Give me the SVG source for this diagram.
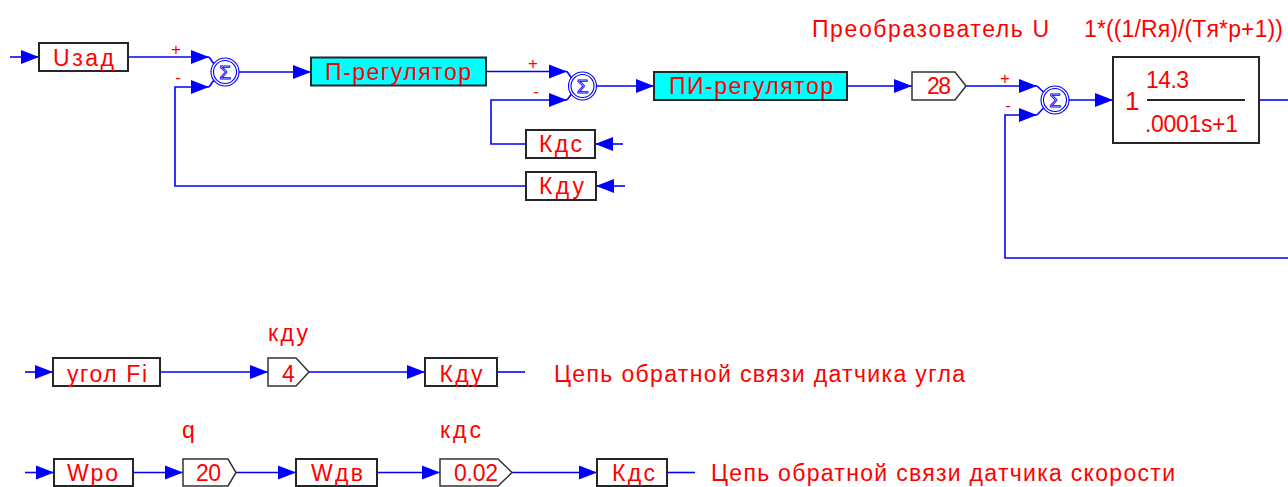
<svg xmlns="http://www.w3.org/2000/svg" width="1288" height="487" viewBox="0 0 1288 487">
  <style>
    .ln { stroke: #0000ff; stroke-width: 1.6; fill: none; }
    .bx { fill: #ffffff; stroke: #262626; stroke-width: 2; }
    .cy { fill: #00ffff; stroke: #262626; stroke-width: 2; }
    .gn { fill: #ffffff; stroke: #333333; stroke-width: 1.5; }
    .sc { fill: #ffffff; stroke: #0000ff; stroke-width: 1.1; }
    .t { font-family: "Liberation Sans", Arial, sans-serif; font-size: 23px; fill: #ff0000; }
    .sg { font-family: "Liberation Sans", Arial, sans-serif; font-size: 17px; fill: #ff0000; text-anchor: middle; }
    .sym { font-family: "Liberation Sans", Arial, sans-serif; font-size: 19px; fill: #ffffff; stroke: #0000ff; stroke-width: 0.9; text-anchor: middle; }
  </style>
  <defs>
    <marker id="ah" viewBox="0 0 20 16" markerWidth="20" markerHeight="16" refX="19" refY="8" orient="auto" markerUnits="userSpaceOnUse">
      <path d="M1,1 L19,8 L1,15 Z" fill="#0000ff"/>
    </marker>
  </defs>
  <rect width="1288" height="487" fill="#ffffff"/>

  <!-- signal lines -->
  <g id="connectors">
    <path class="ln" d="M10,57 H39" marker-end="url(#ah)"/>
    <path class="ln" d="M128,57 H209" marker-end="url(#ah)"/>
    <path class="ln" d="M209,57 L214,64"/>
    <path class="ln" d="M526,186 H175 V87 H209" marker-end="url(#ah)"/>
    <path class="ln" d="M209,87 L214,80"/>
    <path class="ln" d="M239,72 H311" marker-end="url(#ah)"/>
    <path class="ln" d="M486,71.5 H567" marker-end="url(#ah)"/>
    <path class="ln" d="M567,71.5 L571.5,78"/>
    <path class="ln" d="M526,144 H491 V100 H567" marker-end="url(#ah)"/>
    <path class="ln" d="M567,100 L571.5,94"/>
    <path class="ln" d="M623,144 H595" marker-end="url(#ah)"/>
    <path class="ln" d="M625,186 H596" marker-end="url(#ah)"/>
    <path class="ln" d="M596.5,86 H654" marker-end="url(#ah)"/>
    <path class="ln" d="M847,86 H912" marker-end="url(#ah)"/>
    <path class="ln" d="M966,86 H1037" marker-end="url(#ah)"/>
    <path class="ln" d="M1037,86 L1043.5,92"/>
    <path class="ln" d="M1288,258 H1005 V115 H1037" marker-end="url(#ah)"/>
    <path class="ln" d="M1037,115 L1043.5,108"/>
    <path class="ln" d="M1069,100 H1113" marker-end="url(#ah)"/>
    <path class="ln" d="M1259,100 H1288"/>

    <path class="ln" d="M25,372 H53" marker-end="url(#ah)"/>
    <path class="ln" d="M160,372 H268" marker-end="url(#ah)"/>
    <path class="ln" d="M309,372 H425" marker-end="url(#ah)"/>
    <path class="ln" d="M497,372 H525"/>

    <path class="ln" d="M25,472.5 H54" marker-end="url(#ah)"/>
    <path class="ln" d="M133,472.5 H183" marker-end="url(#ah)"/>
    <path class="ln" d="M236,472.5 H296" marker-end="url(#ah)"/>
    <path class="ln" d="M377,472.5 H440" marker-end="url(#ah)"/>
    <path class="ln" d="M512,472.5 H597" marker-end="url(#ah)"/>
    <path class="ln" d="M667,472.5 H695"/>
  </g>

  <!-- main loop -->
  <g id="u-zad">
    <rect class="bx" x="39" y="43" width="89" height="28"/>
    <text class="t" x="53" y="66" textLength="61" lengthAdjust="spacing">Uзад</text>
  </g>
  <g id="sum1">
    <circle class="sc" cx="225" cy="72" r="14"/>
    <circle class="sc" cx="225" cy="72" r="11.5"/>
    <text class="sym" x="225" y="79">Σ</text>
    <text class="sg" x="176" y="55">+</text>
    <text class="sg" x="178" y="83">-</text>
  </g>
  <g id="p-reg">
    <rect class="cy" x="311" y="57.5" width="175" height="28"/>
    <text class="t" x="325" y="80" textLength="146" lengthAdjust="spacing">П-регулятор</text>
  </g>
  <g id="sum2">
    <circle class="sc" cx="582.5" cy="86" r="14"/>
    <circle class="sc" cx="582.5" cy="86" r="11.5"/>
    <text class="sym" x="582.5" y="93">Σ</text>
    <text class="sg" x="533" y="69">+</text>
    <text class="sg" x="536" y="97">-</text>
  </g>
  <g id="kds-fb">
    <rect class="bx" x="526" y="130" width="69" height="28"/>
    <text class="t" x="539" y="151.5" textLength="43" lengthAdjust="spacing">Кдс</text>
  </g>
  <g id="kdu-fb">
    <rect class="bx" x="526" y="172" width="70" height="28"/>
    <text class="t" x="539" y="194" textLength="45" lengthAdjust="spacing">Кду</text>
  </g>
  <g id="pi-reg">
    <rect class="cy" x="654" y="72" width="193" height="28"/>
    <text class="t" x="669" y="94" textLength="164" lengthAdjust="spacing">ПИ-регулятор</text>
  </g>
  <g id="gain-28">
    <polygon class="gn" points="912,72 955,72 966,86 955,100 912,100"/>
    <text class="t" x="927" y="94" textLength="24" lengthAdjust="spacing">28</text>
  </g>
  <g id="converter-label">
    <text class="t" x="812" y="37" textLength="237" lengthAdjust="spacing">Преобразователь U</text>
  </g>
  <g id="sum3">
    <circle class="sc" cx="1055" cy="100" r="14"/>
    <circle class="sc" cx="1055" cy="100" r="11.5"/>
    <text class="sym" x="1055" y="107">Σ</text>
    <text class="sg" x="1005" y="84">+</text>
    <text class="sg" x="1008" y="111">-</text>
  </g>
  <g id="armature">
    <text class="t" x="1084" y="37" textLength="199" lengthAdjust="spacing">1*((1/Rя)/(Tя*p+1))</text>
    <rect class="bx" x="1113" y="57" width="146" height="86"/>
    <text class="t" x="1125" y="110" style="font-size:26px">1</text>
    <line x1="1147" y1="100" x2="1245" y2="100" stroke="#262626" stroke-width="2"/>
    <text class="t" x="1146" y="88" textLength="43" lengthAdjust="spacing">14.3</text>
    <text class="t" x="1145" y="131.5" textLength="93" lengthAdjust="spacing">.0001s+1</text>
  </g>

  <!-- angle sensor feedback chain -->
  <g id="ugol-fi">
    <rect class="bx" x="53" y="358" width="107" height="28"/>
    <text class="t" x="67" y="381.5" textLength="80" lengthAdjust="spacing">угол Fi</text>
  </g>
  <g id="gain-kdu">
    <text class="t" x="268" y="341" textLength="40" lengthAdjust="spacing">кду</text>
    <polygon class="gn" points="268,358 296,358 309,372 296,386 268,386"/>
    <text class="t" x="282" y="381.5">4</text>
  </g>
  <g id="kdu-out">
    <rect class="bx" x="425" y="358" width="72" height="28"/>
    <text class="t" x="439.5" y="381.5" textLength="43" lengthAdjust="spacing">Кду</text>
  </g>
  <g id="angle-caption">
    <text class="t" x="554" y="381.5" textLength="411" lengthAdjust="spacing">Цепь обратной связи датчика угла</text>
  </g>

  <!-- speed sensor feedback chain -->
  <g id="wpo">
    <rect class="bx" x="54" y="459" width="79" height="27"/>
    <text class="t" x="67" y="480.5" textLength="51" lengthAdjust="spacing">Wpo</text>
  </g>
  <g id="gain-q">
    <text class="t" x="182" y="438">q</text>
    <polygon class="gn" points="183,459 228,459 236,472.5 228,486 183,486"/>
    <text class="t" x="196" y="480.5" textLength="25" lengthAdjust="spacing">20</text>
  </g>
  <g id="wdv">
    <rect class="bx" x="296" y="459" width="81" height="27"/>
    <text class="t" x="311" y="480.5" textLength="52" lengthAdjust="spacing">Wдв</text>
  </g>
  <g id="gain-kds">
    <text class="t" x="440" y="438" textLength="41" lengthAdjust="spacing">кдс</text>
    <polygon class="gn" points="440,459 498,459 512,472.5 498,486 440,486"/>
    <text class="t" x="454" y="480.5" textLength="44" lengthAdjust="spacing">0.02</text>
  </g>
  <g id="kds-out">
    <rect class="bx" x="597" y="459" width="70" height="27"/>
    <text class="t" x="612" y="480.5" textLength="43" lengthAdjust="spacing">Кдс</text>
  </g>
  <g id="speed-caption">
    <text class="t" x="711" y="480.5" textLength="464" lengthAdjust="spacing">Цепь обратной связи датчика скорости</text>
  </g>
</svg>
